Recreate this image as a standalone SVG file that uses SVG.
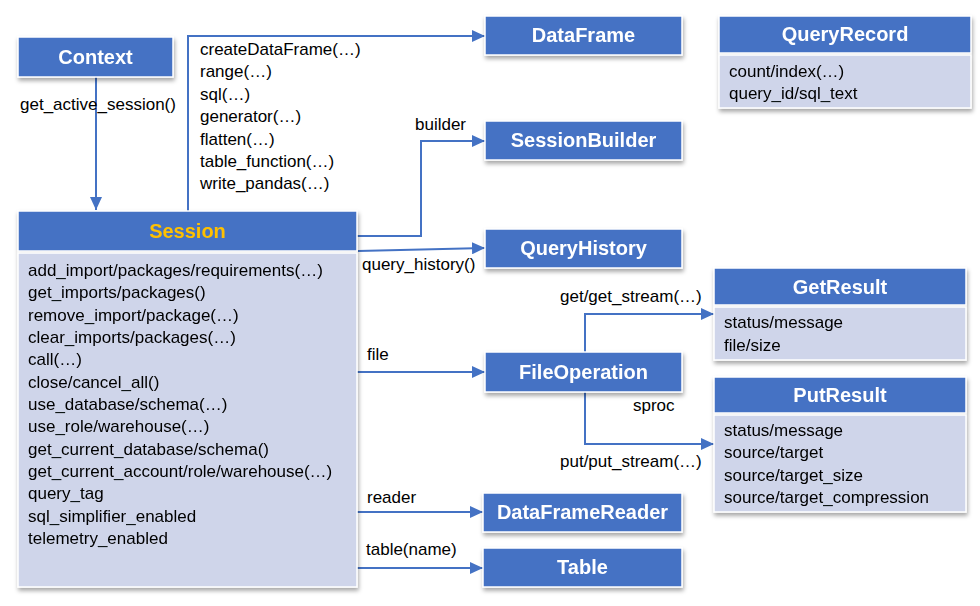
<svg xmlns="http://www.w3.org/2000/svg" width="980" height="606" viewBox="0 0 980 606">
<defs>
<filter id="sh" x="-10%" y="-10%" width="130%" height="140%">
<feDropShadow dx="1" dy="3" stdDeviation="2" flood-color="#000" flood-opacity="0.35"/>
</filter>
<marker id="ar" markerUnits="userSpaceOnUse" markerWidth="13" markerHeight="12" refX="13" refY="6" orient="auto">
<path d="M0,0 L13,6 L0,12 z" fill="#4472C4"/>
</marker>
</defs>
<style>
.hd{fill:#4472C4;stroke:#fff;stroke-width:1.5}
.bd{fill:#CFD5EA;stroke:#fff;stroke-width:1.5}
.ht{font-family:"Liberation Sans",Arial,sans-serif;font-weight:bold;font-size:20px;fill:#fff;text-anchor:middle}
.t{font-family:"Liberation Sans",Arial,sans-serif;font-size:17px;fill:#000}
.c{fill:none;stroke:#4472C4;stroke-width:2}
</style>
<rect width="980" height="606" fill="#fff"/>
<g id="connectors">
<path class="c" d="M96 77 V210" marker-end="url(#ar)"/>
<path class="c" d="M188 211 V36 H485" marker-end="url(#ar)"/>
<path class="c" d="M357 236 H421 V141 H485" marker-end="url(#ar)"/>
<path class="c" d="M358 251 L485 248" marker-end="url(#ar)"/>
<path class="c" d="M357 372 H485" marker-end="url(#ar)"/>
<path class="c" d="M585 352 V314 H714" marker-end="url(#ar)"/>
<path class="c" d="M585 392 V444 H714" marker-end="url(#ar)"/>
<path class="c" d="M357 512 H483" marker-end="url(#ar)"/>
<path class="c" d="M357 568 H483" marker-end="url(#ar)"/>
<text class="t" x="20" y="110">get_active_session()</text>
<text class="t" x="200" y="55">createDataFrame(…)</text>
<text class="t" x="200" y="77.4">range(…)</text>
<text class="t" x="200" y="99.8">sql(…)</text>
<text class="t" x="200" y="122.2">generator(…)</text>
<text class="t" x="200" y="144.6">flatten(…)</text>
<text class="t" x="200" y="167">table_function(…)</text>
<text class="t" x="200" y="189.4">write_pandas(…)</text>
<text class="t" x="415" y="130">builder</text>
<text class="t" x="362" y="270">query_history()</text>
<text class="t" x="367" y="360">file</text>
<text class="t" x="560" y="302">get/get_stream(…)</text>
<text class="t" x="633" y="411">sproc</text>
<text class="t" x="560" y="467">put/put_stream(…)</text>
<text class="t" x="367" y="503">reader</text>
<text class="t" x="366" y="555">table(name)</text>
</g>
<g id="context" filter="url(#sh)">
<rect class="hd" x="18" y="37" width="155" height="40"/>
<text class="ht" x="95.5" y="64">Context</text>
</g>
<g id="session" filter="url(#sh)">
<rect class="hd" x="18" y="211" width="339" height="40"/>
<rect class="bd" x="18" y="253" width="339" height="334"/>
<text class="ht" x="187.5" y="238" style="fill:#FFC000">Session</text>
<text class="t" x="28" y="276">add_import/packages/requirements(…)</text>
<text class="t" x="28" y="298.3">get_imports/packages()</text>
<text class="t" x="28" y="320.7">remove_import/package(…)</text>
<text class="t" x="28" y="343">clear_imports/packages(…)</text>
<text class="t" x="28" y="365.3">call(…)</text>
<text class="t" x="28" y="387.7">close/cancel_all()</text>
<text class="t" x="28" y="410">use_database/schema(…)</text>
<text class="t" x="28" y="432.3">use_role/warehouse(…)</text>
<text class="t" x="28" y="454.7">get_current_database/schema()</text>
<text class="t" x="28" y="477">get_current_account/role/warehouse(…)</text>
<text class="t" x="28" y="499.3">query_tag</text>
<text class="t" x="28" y="521.7">sql_simplifier_enabled</text>
<text class="t" x="28" y="544">telemetry_enabled</text>
</g>
<g id="dataframe" filter="url(#sh)">
<rect class="hd" x="485" y="16" width="197" height="39"/>
<text class="ht" x="583.5" y="42">DataFrame</text>
</g>
<g id="sessionbuilder" filter="url(#sh)">
<rect class="hd" x="485" y="121" width="197" height="39"/>
<text class="ht" x="583.5" y="147">SessionBuilder</text>
</g>
<g id="queryhistory" filter="url(#sh)">
<rect class="hd" x="485" y="229" width="197" height="39"/>
<text class="ht" x="583.5" y="255">QueryHistory</text>
</g>
<g id="fileoperation" filter="url(#sh)">
<rect class="hd" x="485" y="352" width="197" height="40"/>
<text class="ht" x="583.5" y="379">FileOperation</text>
</g>
<g id="dataframereader" filter="url(#sh)">
<rect class="hd" x="483" y="493" width="199" height="39"/>
<text class="ht" x="582.5" y="519">DataFrameReader</text>
</g>
<g id="table" filter="url(#sh)">
<rect class="hd" x="483" y="548" width="199" height="39"/>
<text class="ht" x="582.5" y="574">Table</text>
</g>
<g id="queryrecord" filter="url(#sh)">
<rect class="hd" x="719" y="16" width="252" height="37"/>
<rect class="bd" x="719" y="55" width="252" height="53"/>
<text class="ht" x="845" y="41">QueryRecord</text>
<text class="t" x="729" y="77">count/index(…)</text>
<text class="t" x="729" y="99">query_id/sql_text</text>
</g>
<g id="getresult" filter="url(#sh)">
<rect class="hd" x="714" y="268" width="252" height="37"/>
<rect class="bd" x="714" y="307" width="252" height="53"/>
<text class="ht" x="840" y="293.5">GetResult</text>
<text class="t" x="724" y="328">status/message</text>
<text class="t" x="724" y="350.5">file/size</text>
</g>
<g id="putresult" filter="url(#sh)">
<rect class="hd" x="714" y="377" width="252" height="36"/>
<rect class="bd" x="714" y="415" width="252" height="97"/>
<text class="ht" x="840" y="402">PutResult</text>
<text class="t" x="724" y="436">status/message</text>
<text class="t" x="724" y="458.3">source/target</text>
<text class="t" x="724" y="480.7">source/target_size</text>
<text class="t" x="724" y="503">source/target_compression</text>
</g>
</svg>
